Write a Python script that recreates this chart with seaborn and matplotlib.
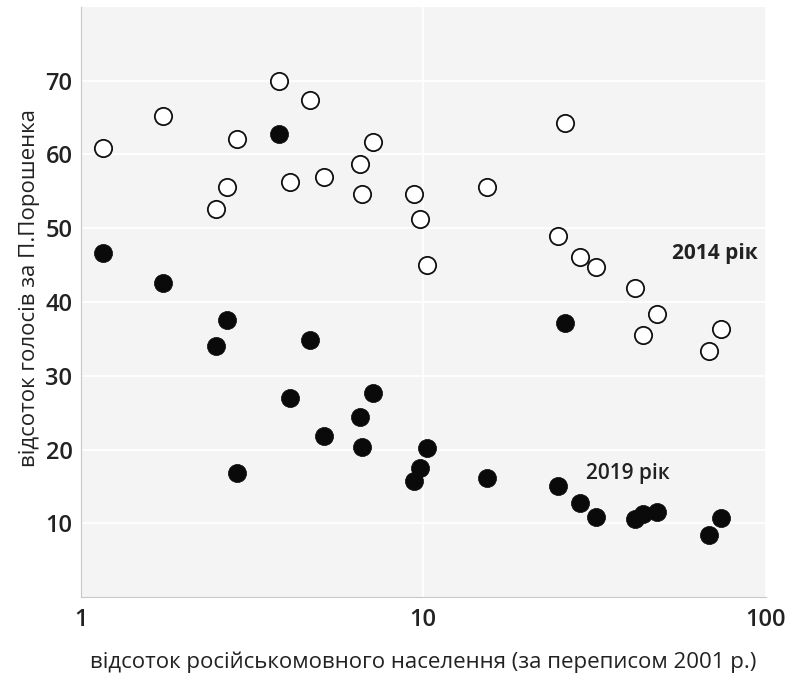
import pandas as pd
import seaborn as sns
import numpy as np
import matplotlib.pyplot as plt
from matplotlib.ticker import FixedLocator, NullFormatter

# частка російськомовного населення (перепис 2001), %
ru_share = [1.16, 1.74, 2.86, 2.68, 2.48, 3.78, 4.66, 4.08, 5.12, 6.55, 6.63, 7.14,
            9.38, 9.77, 10.26, 15.4, 25.9, 24.8, 28.7, 31.9, 41.5, 48.1, 43.8, 73.9, 68.2]
# відсоток голосів за Порошенка, 2014
votes_2014 = [60.8, 65.2, 62.1, 55.6, 52.6, 70.0, 67.4, 56.3, 56.9, 58.7, 54.6, 61.7,
              54.6, 51.2, 45.0, 55.6, 64.2, 48.9, 46.1, 44.8, 41.9, 38.3, 35.5, 36.3, 33.4]
# відсоток голосів за Порошенка, 2019
votes_2019 = [46.7, 42.6, 16.8, 37.6, 34.0, 62.7, 34.9, 27.0, 21.8, 24.4, 20.3, 27.7,
              15.7, 17.5, 20.2, 16.1, 37.1, 15.1, 12.7, 10.9, 10.6, 11.6, 11.3, 10.7, 8.4]

df = pd.DataFrame({'ru': ru_share, 'v2014': votes_2014, 'v2019': votes_2019})

sns.set_style('whitegrid', {'axes.facecolor': '#f4f4f4', 'grid.color': 'white',
                            'axes.edgecolor': '#c8c8c8'})
plt.rcParams['font.family'] = ['Open Sans', 'DejaVu Sans']

fig = plt.figure(figsize=(8, 6.77), dpi=100)
ax = fig.add_axes([0.101, 0.118, 0.856, 0.872])

sns.scatterplot(x='ru', y='v2014', data=df, ax=ax, s=155, color='white',
                edgecolor='#111111', linewidth=1.3, zorder=3)
sns.scatterplot(x='ru', y='v2019', data=df, ax=ax, s=170, color='#0a0a0a',
                edgecolor='#0a0a0a', linewidth=0.5, zorder=3)

ax.set_xscale('log')
ax.set_xlim(1, 100)
ax.set_ylim(0, 80)
ax.set_yticks([10, 20, 30, 40, 50, 60, 70])
ax.xaxis.set_major_locator(FixedLocator([1, 10, 100]))
ax.set_xticklabels(['1', '10', '100'])
ax.xaxis.set_minor_locator(FixedLocator([v * d for d in (1, 10) for v in range(2, 10)]))
ax.xaxis.set_minor_formatter(NullFormatter())
ax.grid(True, which='major', color='white', linewidth=1.2)
ax.grid(False, which='minor')

for s in ['top', 'right']:
    ax.spines[s].set_visible(False)
ax.spines['left'].set_color('#c8c8c8')
ax.spines['bottom'].set_color('#c8c8c8')

ax.tick_params(axis='x', which='minor', direction='in', length=4, color='#c8c8c8', width=1)
ax.tick_params(axis='x', which='major', direction='in', length=0, pad=8)
ax.tick_params(axis='y', length=0, pad=6)
for lab in ax.get_xticklabels() + ax.get_yticklabels():
    lab.set_fontsize(17)
    lab.set_fontweight('semibold')
    lab.set_color('#222222')

ax.set_xlabel('відсоток російськомовного населення (за переписом 2001 р.)',
              fontsize=16, color='#222222', labelpad=14)
ax.set_ylabel('відсоток голосів за П.Порошенка', fontsize=16, color='#222222')
ax.yaxis.set_label_coords(-0.06, 0.524)

ax.text(53.2, 46.6, '2014 рік', fontsize=15, fontweight='bold', color='#222222', va='center')
ax.text(29.8, 16.8, '2019 рік', fontsize=15, fontweight='semibold', color='#222222', va='center')

fig.savefig('out.png', dpi=100)
